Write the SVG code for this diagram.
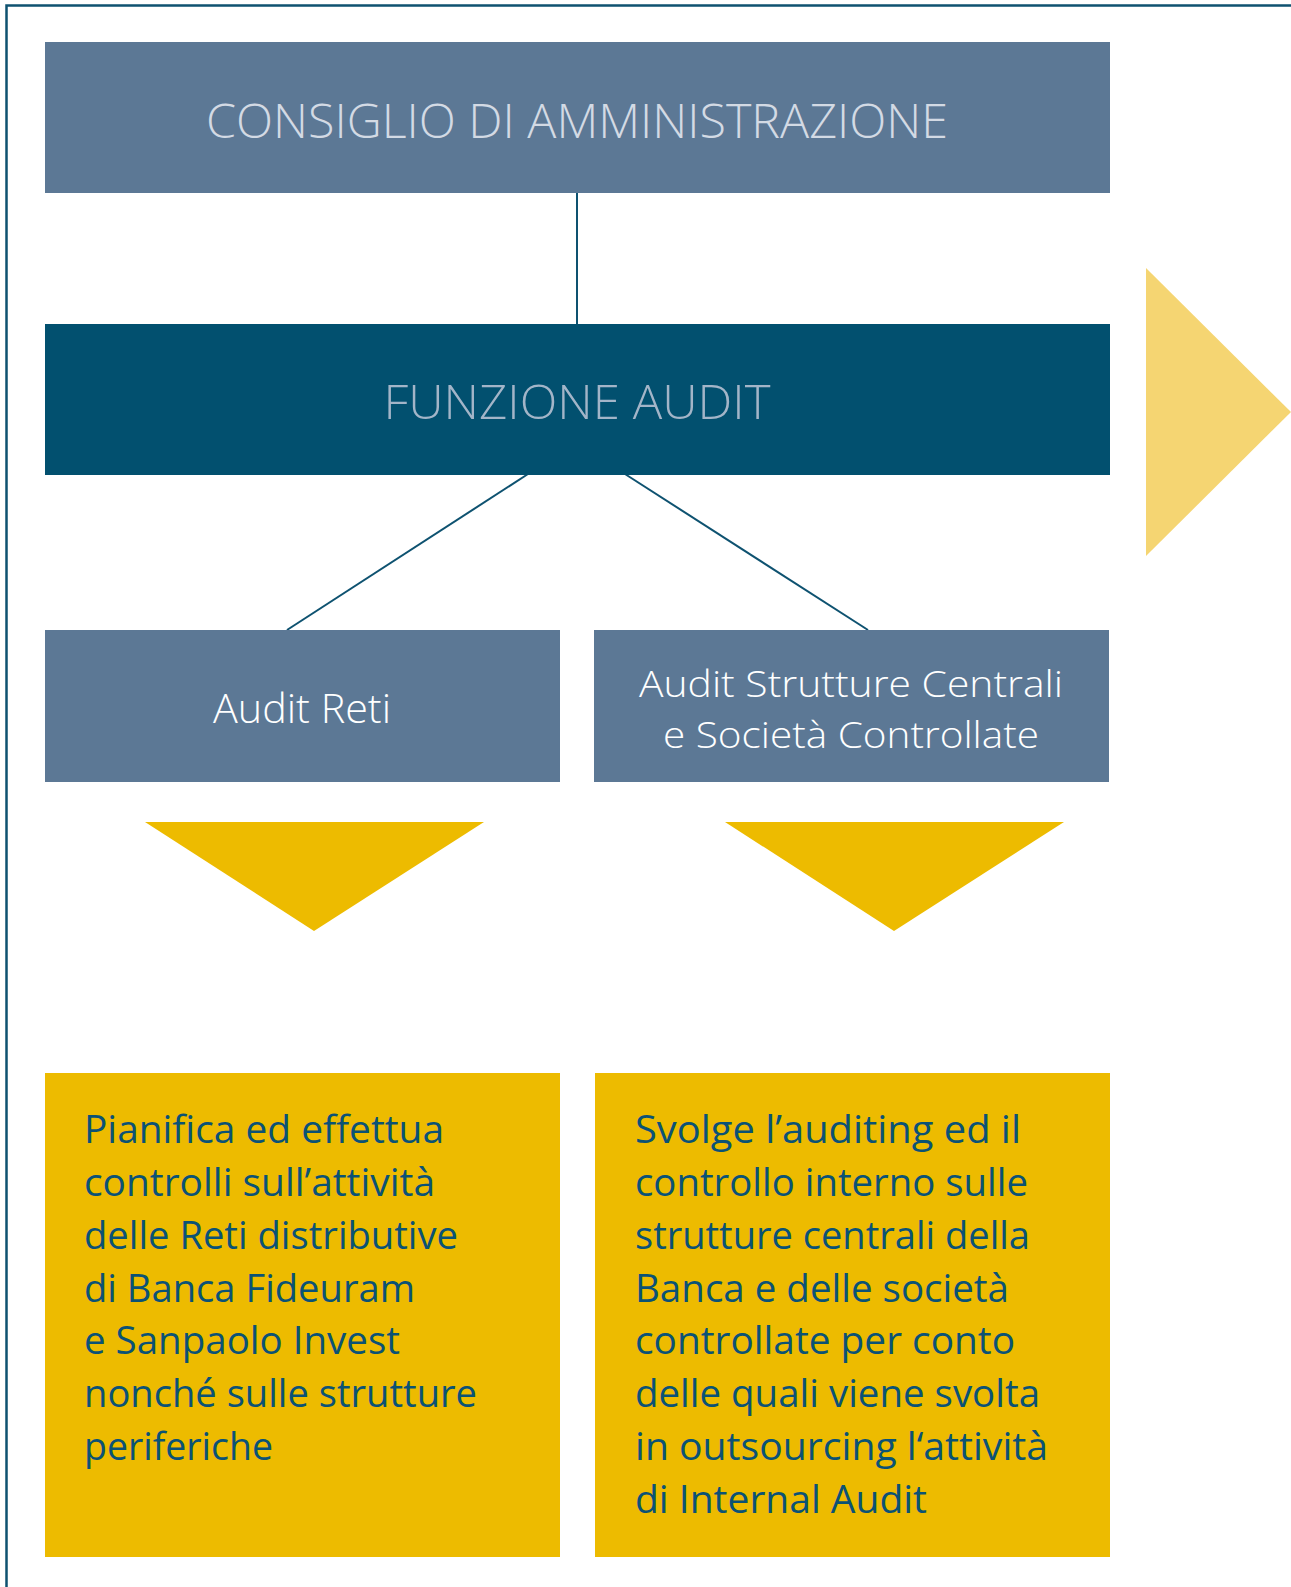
<svg xmlns="http://www.w3.org/2000/svg" width="1291" height="1587" viewBox="0 0 1291 1587">
<style>
.slate{fill:#5C7895}
.dark{fill:#02506F}
.yel{fill:#EDBB00}
.tri{fill:#EDBB00}
.tri-light{fill:#F5D572}
.conn{stroke:#0E5270;stroke-width:2;fill:none}
.head{font-family:"Open Sans","Noto Sans","Liberation Sans",sans-serif;font-weight:300;font-size:47px;text-anchor:middle}
.sub{font-family:"Open Sans","Noto Sans","Liberation Sans",sans-serif;font-weight:300;font-size:41px;fill:#FFFFFF;text-anchor:middle}
.sub2{font-size:37px}
.body{font-family:"Open Sans","Noto Sans","Liberation Sans",sans-serif;font-weight:400;font-size:39px;fill:#0B5275}
</style>
<rect width="1291" height="1587" fill="#FFFFFF"/>
<rect x="6.5" y="5.5" width="1400" height="1700" fill="none" stroke="#0E5270" stroke-width="2.5"/>

<g id="connectors">
<line class="conn" x1="577" y1="193" x2="577" y2="324"/>
<line class="conn" x1="528" y1="474" x2="287" y2="630"/>
<line class="conn" x1="625" y1="474" x2="868" y2="630"/>
</g>

<g id="consiglio">
<rect class="slate" x="45" y="42" width="1065" height="151"/>
<text class="head" x="577" y="138" fill="#D3DAE4" textLength="742" lengthAdjust="spacingAndGlyphs">CONSIGLIO DI AMMINISTRAZIONE</text>
</g>

<g id="funzione">
<rect class="dark" x="45" y="324" width="1065" height="151"/>
<text class="head" x="577" y="419" fill="#A3B5C8" textLength="387" lengthAdjust="spacingAndGlyphs">FUNZIONE AUDIT</text>
</g>

<g id="audit-reti">
<rect class="slate" x="45" y="630" width="515" height="152"/>
<text class="sub" x="302" y="723" textLength="178" lengthAdjust="spacingAndGlyphs">Audit Reti</text>
</g>

<g id="audit-strutture">
<rect class="slate" x="594" y="630" width="515" height="152"/>
<text class="sub sub2" x="851" y="697" textLength="424" lengthAdjust="spacingAndGlyphs">Audit Strutture Centrali</text>
<text class="sub sub2" x="851" y="747.5" textLength="376" lengthAdjust="spacingAndGlyphs">e Società Controllate</text>
</g>

<g id="arrow-right">
<polygon class="tri-light" points="1146,268 1291,412 1146,556"/>
</g>

<g id="arrow-left-down">
<polygon class="tri" points="145,822 484,822 314,931"/>
</g>

<g id="arrow-right-down">
<polygon class="tri" points="725,822 1064,822 894,931"/>
</g>

<g id="desc-reti">
<rect class="yel" x="45" y="1073" width="515" height="484"/>
<text class="body" x="84" y="1143" textLength="360" lengthAdjust="spacingAndGlyphs">Pianifica ed effettua</text>
<text class="body" x="84" y="1196" textLength="351" lengthAdjust="spacingAndGlyphs">controlli sull’attività</text>
<text class="body" x="84" y="1248.5" textLength="374" lengthAdjust="spacingAndGlyphs">delle Reti distributive</text>
<text class="body" x="84" y="1301.5" textLength="331" lengthAdjust="spacingAndGlyphs">di Banca Fideuram</text>
<text class="body" x="84" y="1354" textLength="316" lengthAdjust="spacingAndGlyphs">e Sanpaolo Invest</text>
<text class="body" x="84" y="1407" textLength="393" lengthAdjust="spacingAndGlyphs">nonché sulle strutture</text>
<text class="body" x="84" y="1459.5" textLength="189" lengthAdjust="spacingAndGlyphs">periferiche</text>
</g>

<g id="desc-strutture">
<rect class="yel" x="595" y="1073" width="515" height="484"/>
<text class="body" x="635" y="1143" textLength="386" lengthAdjust="spacingAndGlyphs">Svolge l’auditing ed il</text>
<text class="body" x="635" y="1196" textLength="393" lengthAdjust="spacingAndGlyphs">controllo interno sulle</text>
<text class="body" x="635" y="1248.5" textLength="395" lengthAdjust="spacingAndGlyphs">strutture centrali della</text>
<text class="body" x="635" y="1301.5" textLength="374" lengthAdjust="spacingAndGlyphs">Banca e delle società</text>
<text class="body" x="635" y="1354" textLength="380" lengthAdjust="spacingAndGlyphs">controllate per conto</text>
<text class="body" x="635" y="1407" textLength="405" lengthAdjust="spacingAndGlyphs">delle quali viene svolta</text>
<text class="body" x="635" y="1459.5" textLength="413" lengthAdjust="spacingAndGlyphs">in outsourcing l‘attività</text>
<text class="body" x="635" y="1512.5" textLength="292" lengthAdjust="spacingAndGlyphs">di Internal Audit</text>
</g>
</svg>
